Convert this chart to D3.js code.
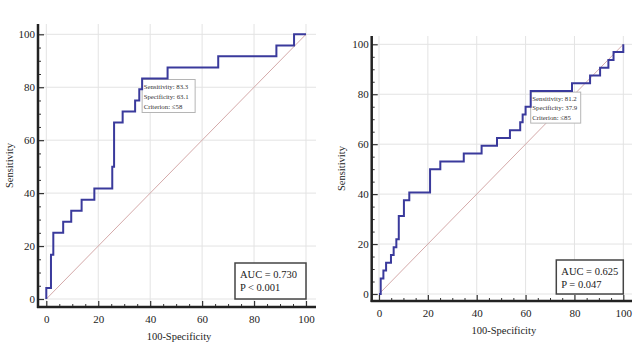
<!DOCTYPE html>
<html>
<head>
<meta charset="utf-8">
<script src="https://cdn.jsdelivr.net/npm/d3@7"></script>
<style>
  html, body { margin: 0; padding: 0; background: #fff; }
  svg { display: block; }
  text { font-family: "Liberation Serif", "Times New Roman", serif; }
</style>
</head>
<body>
<svg id="chart" width="640" height="360"></svg>
<script>
// ---- Data ----
const leftFpr  = [0, 0, 1.8, 2.7, 6.5, 9.6, 13.6, 18.5, 25.4, 26.1, 29.4, 34.2, 35.8, 36.9, 46.7, 66.2, 88.6, 95.4, 100];
const leftSens = [0, 4.2, 16.7, 25, 29.2, 33.3, 37.5, 41.7, 50, 66.7, 70.8, 75, 79.2, 83.3, 87.5, 91.7, 95.8, 100, 100];
const rightFpr  = [0, 0.7, 1.8, 2.9, 4.9, 6.0, 7.1, 8.1, 10.2, 12.4, 20.9, 25.1, 34.7, 42.0, 48.3, 53.6, 57.8, 58.8, 60.0, 62.1, 79.0, 86.4, 90.5, 93.9, 96.0, 100];
const rightSens = [0, 6.25, 9.4, 12.5, 15.6, 18.75, 21.9, 31.25, 37.5, 40.6, 50, 53.1, 56.25, 59.4, 62.5, 65.6, 68.75, 71.9, 75, 81.25, 84.4, 87.5, 90.6, 93.75, 96.9, 100];
const leftCriterion  = { fpr: 36.9, sens: 83.3, lines: ["Sensitivity: 83.3", "Specificity: 63.1", "Criterion: \u226458"] };
const rightCriterion = { fpr: 62.1, sens: 81.25, lines: ["Sensitivity: 81.2", "Specificity: 37.9", "Criterion: \u226485"] };
const leftStats  = ["AUC = 0.730", "P < 0.001"];
const rightStats = ["AUC = 0.625", "P = 0.047"];
const majorTicks = [0, 20, 40, 60, 80, 100];
const minorTicks = [5, 10, 15, 25, 30, 35, 45, 50, 55, 65, 70, 75, 85, 90, 95];
const xTitle = "100-Specificity";
const yTitle = "Sensitivity";

const svg = d3.select("#chart");

function drawPanel(cfg) {
  const x = d3.scaleLinear().domain([0, 100]).range([cfg.x0, cfg.x100]);
  const y = d3.scaleLinear().domain([0, 100]).range([cfg.y0, cfg.y100]);
  const g = svg.append("g");

  // grid
  g.selectAll(".hg").data(majorTicks).join("line")
    .attr("x1", cfg.axisX).attr("x2", cfg.axisXEnd)
    .attr("y1", d => y(d)).attr("y2", d => y(d))
    .attr("stroke", "#e3e3e3").attr("stroke-width", 1);
  g.selectAll(".vg").data(majorTicks).join("line")
    .attr("y1", cfg.axisYTop).attr("y2", cfg.axisY)
    .attr("x1", d => x(d)).attr("x2", d => x(d))
    .attr("stroke", "#e3e3e3").attr("stroke-width", 1);

  // diagonal
  g.append("line")
    .attr("x1", x(0)).attr("y1", y(0)).attr("x2", x(100)).attr("y2", y(100))
    .attr("stroke", "#d4a9a9").attr("stroke-width", 1);

  // criterion box
  const cb = cfg.crit;
  const bx = x(cb.fpr), by = y(cb.sens) + 1;
  g.append("rect")
    .attr("x", bx).attr("y", by).attr("width", cfg.critW).attr("height", cfg.critH)
    .attr("fill", "#fff").attr("stroke", "#b5b5b5").attr("stroke-width", 1);
  g.selectAll(".ct").data(cb.lines).join("text")
    .attr("x", bx + 1.5).attr("y", (d, i) => by + 9 + i * cfg.critStep)
    .attr("font-size", 6.8).attr("fill", "#333").text(d => d);

  // ROC curve
  const pts = cfg.fpr.map((f, i) => [f, cfg.sens[i]]);
  g.append("path").datum(pts)
    .attr("d", d3.line().x(d => x(d[0])).y(d => y(d[1])).curve(d3.curveStepAfter))
    .attr("fill", "none").attr("stroke", "#3a3a9c").attr("stroke-width", 2);

  // AUC box
  const aw = cfg.aucW, ah = cfg.aucH;
  g.append("rect")
    .attr("x", x(100) - aw).attr("y", y(0) - ah).attr("width", aw).attr("height", ah)
    .attr("fill", "#fff").attr("stroke", "#444").attr("stroke-width", 1.5);
  g.selectAll(".at").data(cfg.stats).join("text")
    .attr("x", x(100) - aw + 5).attr("y", (d, i) => y(0) - ah + 15 + i * 13)
    .attr("font-size", 10.5).attr("fill", "#222").text(d => d);

  // Y axis
  const yAx = g.append("g").attr("transform", `translate(${cfg.axisX},0)`)
    .call(d3.axisLeft(y).tickValues(majorTicks).tickSizeInner(-6).tickSizeOuter(0).tickPadding(3));
  yAx.select(".domain").remove();
  yAx.selectAll("text").attr("font-size", 11).attr("fill", "#222").style("font-family", '"Liberation Serif", serif');
  yAx.selectAll("line").attr("stroke", "#333").attr("stroke-width", 1.2);
  const yMin = g.append("g").attr("transform", `translate(${cfg.axisX},0)`)
    .call(d3.axisLeft(y).tickValues(minorTicks).tickSizeInner(-3).tickSizeOuter(0).tickFormat(""));
  yMin.select(".domain").remove();
  yMin.selectAll("line").attr("stroke", "#333").attr("stroke-width", 1);

  // X axis
  const xAx = g.append("g").attr("transform", `translate(0,${cfg.axisY})`)
    .call(d3.axisBottom(x).tickValues(majorTicks).tickSizeInner(-6).tickSizeOuter(0).tickPadding(8));
  xAx.select(".domain").remove();
  xAx.selectAll("text").attr("font-size", 11).attr("fill", "#222").style("font-family", '"Liberation Serif", serif');
  xAx.selectAll("line").attr("stroke", "#333").attr("stroke-width", 1.2);
  const xMin = g.append("g").attr("transform", `translate(0,${cfg.axisY})`)
    .call(d3.axisBottom(x).tickValues(minorTicks).tickSizeInner(-3).tickSizeOuter(0).tickFormat(""));
  xMin.select(".domain").remove();
  xMin.selectAll("line").attr("stroke", "#333").attr("stroke-width", 1);

  // axis lines
  g.append("line").attr("x1", cfg.axisX).attr("x2", cfg.axisX)
    .attr("y1", cfg.axisYTop).attr("y2", cfg.axisY + 1)
    .attr("stroke", "#222").attr("stroke-width", 2.5);
  g.append("line").attr("x1", cfg.axisX - 1).attr("x2", cfg.axisXEnd)
    .attr("y1", cfg.axisY).attr("y2", cfg.axisY)
    .attr("stroke", "#222").attr("stroke-width", 2.5);

  // titles
  g.append("text").attr("x", (cfg.axisX + cfg.axisXEnd) / 2 + 2).attr("y", cfg.xTitleY)
    .attr("text-anchor", "middle").attr("font-size", 10.5).attr("fill", "#222").text(xTitle);
  g.append("text")
    .attr("transform", `translate(${cfg.yTitleX},${(cfg.axisYTop + cfg.axisY) / 2}) rotate(-90)`)
    .attr("text-anchor", "middle").attr("font-size", 10.5).attr("fill", "#222").text(yTitle);
}

drawPanel({
  x0: 46.3, x100: 306, y0: 299, y100: 34.3,
  axisX: 38, axisXEnd: 316, axisY: 307, axisYTop: 24,
  xTitleY: 340, yTitleX: 13,
  fpr: leftFpr, sens: leftSens, crit: leftCriterion, critW: 53, critH: 33, critStep: 10,
  stats: leftStats, aucW: 71, aucH: 36
});

drawPanel({
  x0: 379, x100: 623.3, y0: 294, y100: 44.3,
  axisX: 371.7, axisXEnd: 632, axisY: 301, axisYTop: 36,
  xTitleY: 334, yTitleX: 345,
  fpr: rightFpr, sens: rightSens, crit: rightCriterion, critW: 50, critH: 31, critStep: 9.2,
  stats: rightStats, aucW: 67, aucH: 34
});
</script>
</body>
</html>
